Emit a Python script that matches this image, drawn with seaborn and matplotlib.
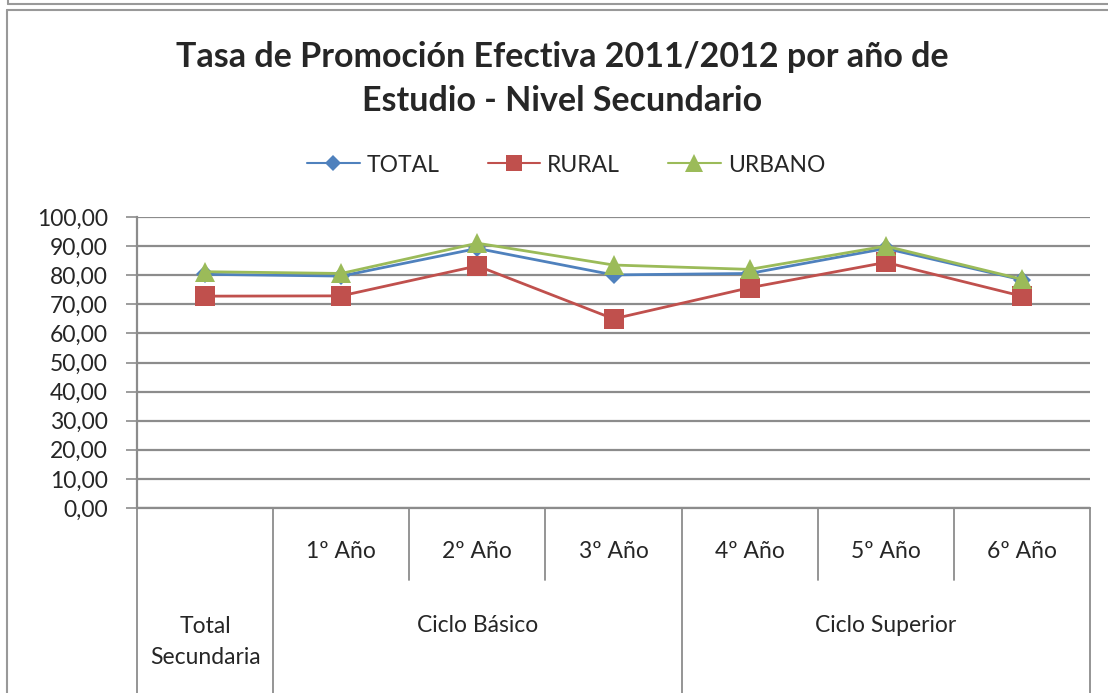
import pandas as pd
import seaborn as sns
import matplotlib.pyplot as plt
from matplotlib.lines import Line2D

categorias = ['Total Secundaria', '1º Año', '2º Año', '3º Año', '4º Año', '5º Año', '6º Año']
etiquetas_anio = ['', '1º Año', '2º Año', '3º Año', '4º Año', '5º Año', '6º Año']
ciclos = ['Total\nSecundaria', 'Ciclo Básico', 'Ciclo Superior']
ciclo_centros = [0, 2, 5]

total = [80.3, 79.7, 89.2, 80.1, 80.6, 89.2, 78.4]
rural = [72.8, 72.9, 83.2, 65.0, 75.7, 84.4, 72.8]
urbano = [81.2, 80.6, 91.0, 83.5, 82.0, 90.0, 78.6]

df = pd.DataFrame({'x': list(range(len(categorias))) * 3,
                   'valor': total + rural + urbano,
                   'serie': ['TOTAL'] * 7 + ['RURAL'] * 7 + ['URBANO'] * 7})

sns.set_theme(style="white")
plt.rcParams['font.family'] = ['Lato', 'DejaVu Sans']

fig = plt.figure(figsize=(11.08, 6.93), dpi=100)
ax = fig.add_axes([137/1108, 1 - 508/693, (1090-137)/1108, (508-217)/693])

estilos = {'TOTAL': ('#4F81BD', 'D', 9),
           'RURAL': ('#C0504D', 's', 14),
           'URBANO': ('#9BBB59', '^', 15)}
for serie, (color, marker, ms) in estilos.items():
    sns.lineplot(data=df[df['serie'] == serie], x='x', y='valor', ax=ax, color=color,
                 marker=marker, markersize=ms, markeredgewidth=0, linewidth=2,
                 label=serie, legend=False)

ax.set_xlim(-0.5, 6.5)
ax.set_ylim(0, 100)
ax.set_yticks(range(0, 101, 10))
ax.set_yticklabels([f'{v},00' for v in range(0, 101, 10)], fontsize=16.5)
ax.set_xticks([])
ax.set_xlabel('')
ax.set_ylabel('')
ax.yaxis.grid(True, color='#8c8c8c', linewidth=1.6)
ax.tick_params(axis='y', length=8, color='#8c8c8c', width=1.2, pad=13, left=True)
for s in ['top', 'right', 'bottom']:
    ax.spines[s].set_visible(False)
ax.spines['left'].set_color('#8c8c8c')
ax.spines['left'].set_linewidth(1.6)
ax.set_axisbelow(True)

# ejes de categorias en dos niveles
tr = ax.get_xaxis_transform()
h = 291.0
for xs in [-0.5, 0.5, 3.5, 6.5]:
    ax.plot([xs, xs], [0, -185 / h], transform=tr, color='#8c8c8c', lw=1.3, clip_on=False)
for xs in [1.5, 2.5, 4.5, 5.5]:
    ax.plot([xs, xs], [0, -72 / h], transform=tr, color='#8c8c8c', lw=1.3, clip_on=False)
ax.plot([-0.5, 6.5], [0, 0], transform=tr, color='#8c8c8c', lw=1.6, clip_on=False)
for i, lab in enumerate(etiquetas_anio):
    ax.text(i, -44 / h, lab, transform=tr, ha='center', va='center', fontsize=16.5)
for c, lab in zip(ciclo_centros, ciclos):
    yy = -134 / h if '\n' in lab else -118 / h
    ax.text(c, yy, lab, transform=tr, ha='center', va='center', fontsize=16.5, linespacing=1.55)

fig.text(562 / 1108, 1 - 79 / 693, 'Tasa de Promoción Efectiva 2011/2012 por año de\nEstudio - Nivel Secundario',
         ha='center', va='center', fontsize=24.5, fontweight='bold', linespacing=1.45)

handles = [Line2D([], [], color=c, marker=m, markersize=ms * 0.85, markeredgewidth=0, lw=1.5)
           for (c, m, ms) in estilos.values()]
fig.legend(handles, list(estilos.keys()), loc='center', bbox_to_anchor=(566 / 1108, 1 - 165 / 693),
           ncol=3, frameon=False, fontsize=16.5, handlelength=2.3, columnspacing=2.1, handletextpad=0.3)

# bordes del grafico
fig.add_artist(Line2D([8 / 1108, 1], [1 - 4 / 693, 1 - 4 / 693], color='#999999', lw=1.5))
fig.add_artist(Line2D([8 / 1108, 8 / 1108], [1, 1 - 4 / 693], color='#999999', lw=1.5))
fig.add_artist(Line2D([7 / 1108, 1], [1 - 10 / 693, 1 - 10 / 693], color='#999999', lw=1.5))
fig.add_artist(Line2D([7 / 1108, 7 / 1108], [0, 1 - 10 / 693], color='#999999', lw=1.5))

fig.savefig('out.png', dpi=100)
